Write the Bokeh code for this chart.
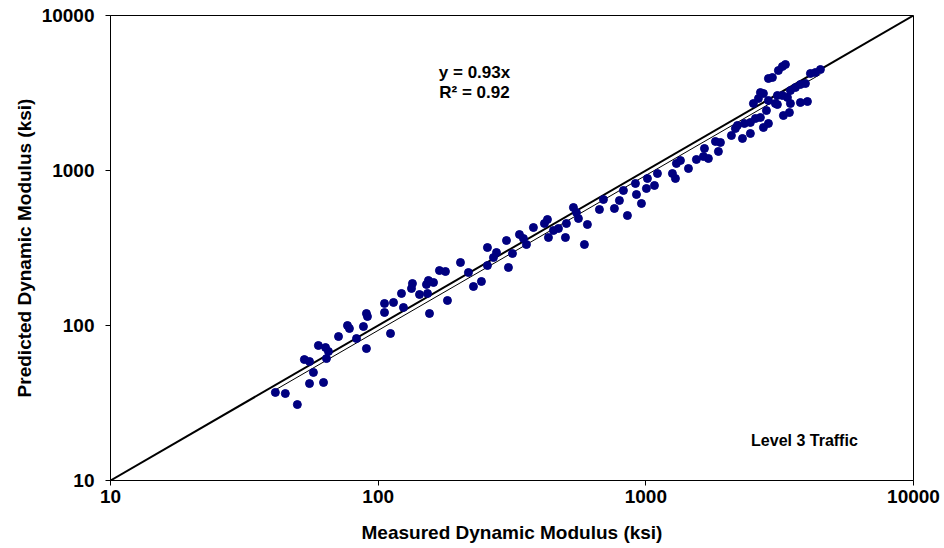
from bokeh.plotting import figure
from bokeh.models import Range1d, FixedTicker, NumeralTickFormatter, Label
from bokeh.embed import file_html
from bokeh.resources import INLINE

# Measured vs predicted dynamic modulus (ksi)
measured = [41.3, 45.0, 49.9, 55.4, 62.5, 57.3, 53.0, 55.4, 64.1, 59.8,
            63.6, 65.2, 71.1, 76.8, 78.1, 83.0, 90.4, 88.1, 90.4, 91.2,
            105.6, 111.2, 105.6, 114.1, 124.3, 122.2, 133.2, 134.3, 142.7, 152.9,
            155.5, 181.5, 151.5, 154.1, 161.0, 169.4, 178.4, 203.0, 217.4, 227.0,
            243.1, 256.0, 256.0, 269.6, 276.7, 301.6, 306.7, 317.5, 337.2, 349.0,
            358.1, 380.2, 418.0, 429.0, 432.7, 451.7, 471.6, 500.8, 505.0, 536.4,
            550.4, 560.0, 589.6, 605.0, 670.9, 694.4, 763.2, 796.8, 824.7, 853.6,
            914.5, 922.5, 962.9, 1005, 1014, 1077, 1105, 1257, 1290, 1301,
            1347, 1443, 1545, 1641, 1713, 1656, 1820, 1900, 1867, 2088,
            2296, 2161, 2199, 2335, 2458, 2458, 2567, 2680, 2750, 2871,
            2822, 2523, 2634, 2680, 2871, 3048, 3101, 2750, 3266, 3439,
            3469, 3381, 3101, 3238, 3469, 3621, 3780, 3947, 4016, 4120,
            4300, 4490, 2871, 2971, 3128, 3238, 3323, 3780]
predicted = [37.0, 36.4, 30.9, 42.2, 42.9, 49.8, 60.3, 58.6, 61.2, 74.3,
             72.1, 68.0, 84.9, 100.0, 95.6, 82.4, 71.0, 98.5, 119.5, 114.3,
             121.3, 88.8, 138.7, 140.8, 130.7, 160.9, 173.3, 186.6, 158.5, 160.9,
             119.5, 145.0, 183.9, 195.2, 189.5, 226.3, 223.0, 255.0, 219.7, 178.5,
             192.3, 318.5, 243.8, 274.6, 295.8, 353.4, 236.7, 291.4, 386.5, 364.2,
             333.0, 428.8, 455.0, 483.0, 369.6, 410.1, 422.5, 369.6, 455.0, 577.2,
             535.8, 490.2, 333.0, 448.3, 560.3, 650.0, 568.7, 640.5, 743.0, 512.3,
             824.5, 700.1, 612.5, 765.4, 888.1, 800.5, 956.4, 956.4, 888.1, 1110,
             1160, 1030, 1178, 1231, 1195, 1387, 1539, 1516, 1327, 1682,
             1609, 1866, 1952, 2011, 2041, 1733, 2165, 2198, 1894, 2011,
             2438, 2705, 2914, 3185, 2829, 2705, 3047, 3139, 2263, 2366,
             2705, 2958, 2665, 3047, 3281, 3431, 3588, 3642, 2787, 4225,
             4288, 4483, 3922, 3981, 4417, 4688, 4830, 2745]

slope = 0.93
r2 = 0.92
axis_ticks = [10, 100, 1000, 10000]
equality = [10, 10000]

FONT = "Liberation Sans"

p = figure(width=944, height=548, x_axis_type="log", y_axis_type="log",
           x_range=Range1d(10, 10000), y_range=Range1d(10, 10000),
           output_backend="svg", toolbar_location=None,
           min_border_left=110, min_border_right=31,
           min_border_top=15, min_border_bottom=68)

p.background_fill_color = "white"
p.border_fill_color = "white"
p.outline_line_color = "black"
p.outline_line_width = 1
p.xgrid.grid_line_color = None
p.ygrid.grid_line_color = None

for ax in (p.xaxis[0], p.yaxis[0]):
    ax.ticker = FixedTicker(ticks=axis_ticks)
    ax.formatter = NumeralTickFormatter(format="0")
    ax.minor_tick_line_color = None
    ax.major_tick_out = 5
    ax.major_tick_in = 0
    ax.axis_line_color = "black"
    ax.major_tick_line_color = "black"
    ax.major_label_text_font = FONT
    ax.major_label_text_font_style = "bold"
    ax.major_label_text_font_size = "19px"
    ax.major_label_text_color = "black"
    ax.axis_label_text_font = FONT
    ax.axis_label_text_font_style = "bold"
    ax.axis_label_text_font_size = "19px"
    ax.axis_label_text_color = "black"

p.xaxis.axis_label = "Measured Dynamic Modulus (ksi)"
p.yaxis.axis_label = "Predicted Dynamic Modulus (ksi)"
p.xaxis.major_label_standoff = 4
p.xaxis.axis_label_standoff = 16
p.yaxis.major_label_standoff = 11
p.yaxis.axis_label_standoff = 4

# line of equality
p.line(equality, equality, line_color="black", line_width=2)

# trendline y = 0.93x over the data range
xmin, xmax = min(measured), max(measured)
tx = [xmin, xmax]
ty = [slope * v for v in tx]
p.line(tx, ty, line_color="white", line_width=3.5)
p.line(tx, ty, line_color="black", line_width=1)

p.scatter(measured, predicted, size=8, marker="circle",
          fill_color="#000080", line_color="#000080")

p.add_layout(Label(x=229, y=4290, text="y = %.2fx" % slope, text_font=FONT,
                   text_font_style="bold", text_font_size="17px",
                   text_color="black",
                   text_align="center", text_baseline="middle"))
p.add_layout(Label(x=229, y=3185, text="R² = %.2f" % r2, text_font=FONT,
                   text_font_style="bold", text_font_size="17px",
                   text_color="black",
                   text_align="center", text_baseline="middle"))
p.add_layout(Label(x=3913, y=18.1, text="Level 3 Traffic", text_font=FONT,
                   text_font_style="bold", text_font_size="16px",
                   text_color="black",
                   text_align="center", text_baseline="middle"))

open("out.html", "w").write(file_html(p, INLINE))
